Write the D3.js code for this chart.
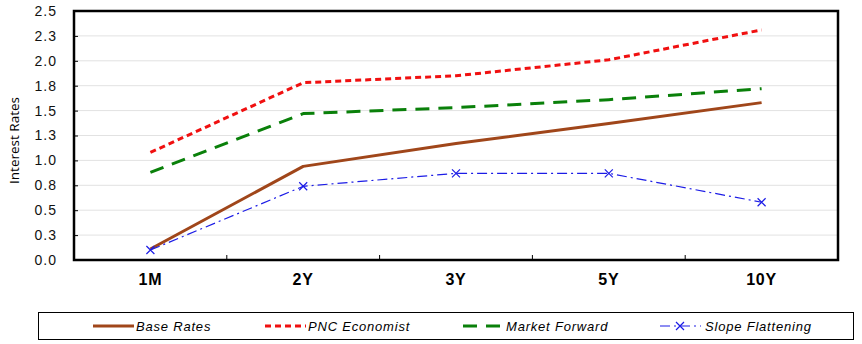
<!DOCTYPE html>
<html><head><meta charset="utf-8">
<script src="https://cdn.jsdelivr.net/npm/d3@7"></script>
<style>body{margin:0;background:#fff;} svg{display:block;}</style>
</head><body>
<script>
const categories = ["1M", "2Y", "3Y", "5Y", "10Y"];
const baseRates = [0.11, 0.94, 1.17, 1.37, 1.58];
const pncEconomist = [1.08, 1.78, 1.85, 2.01, 2.31];
const marketForward = [0.88, 1.47, 1.53, 1.61, 1.72];
const slopeFlattening = [0.10, 0.74, 0.87, 0.87, 0.58];
const yTicks = [0, 0.25, 0.5, 0.75, 1.0, 1.25, 1.5, 1.75, 2.0, 2.25, 2.5];
const yTickLabels = ["0.0", "0.3", "0.5", "0.8", "1.0", "1.3", "1.5", "1.8", "2.0", "2.3", "2.5"];
const seriesNames = ["Base Rates", "PNC Economist", "Market Forward", "Slope Flattening"];

const W = 862, H = 344;
const m = {left: 74, right: 838, top: 11, bottom: 260};
const svg = d3.select("body").append("svg").attr("width", W).attr("height", H);

const x = d3.scaleBand().domain(categories).range([m.left, m.right]);
const y = d3.scaleLinear().domain([0, 2.5]).range([m.bottom, m.top]);

// gridlines
svg.append("g").selectAll("line").data(yTicks.slice(1, -1)).join("line")
  .attr("x1", m.left).attr("x2", m.right)
  .attr("y1", d => y(d)).attr("y2", d => y(d))
  .attr("stroke", "#e2e2e2").attr("stroke-width", 1);

// y axis labels
const yAxis = d3.axisLeft(y).tickValues(yTicks).tickFormat((d, i) => yTickLabels[i]).tickSize(4).tickPadding(13);
const gy = svg.append("g").attr("transform", `translate(${m.left},0)`).call(yAxis);
gy.select(".domain").remove();
gy.selectAll(".tick line").attr("stroke", "#000").attr("x2", 4).attr("x1", 0);
gy.selectAll("text").attr("font-family", "Arial, 'Liberation Sans', sans-serif").attr("font-size", 14)
  .attr("letter-spacing", 1).attr("fill", "#111");

// x axis labels + boundary ticks
const gx = svg.append("g");
gx.selectAll("text").data(categories).join("text")
  .attr("x", d => x(d) + x.bandwidth() / 2).attr("y", 285)
  .attr("text-anchor", "middle")
  .attr("font-family", "Arial, 'Liberation Sans', sans-serif").attr("font-weight", "bold").attr("font-size", 16)
  .attr("letter-spacing", 0.8)
  .text(d => d);
gx.selectAll("line").data(categories.slice(1)).join("line")
  .attr("x1", d => x(d)).attr("x2", d => x(d))
  .attr("y1", m.bottom).attr("y2", m.bottom - 5)
  .attr("stroke", "#000").attr("stroke-width", 1);

// y label
svg.append("text")
  .attr("transform", `translate(19,${(m.top + m.bottom) / 2 + 5}) rotate(-90)`)
  .attr("text-anchor", "middle")
  .attr("font-family", "'Open Sans', 'Noto Sans', sans-serif").attr("font-size", 13.5)
  .text("Interest Rates");

const styles = [
  {data: baseRates, color: "#A0461A", width: 3, dash: null, marker: false},
  {data: pncEconomist, color: "#F01010", width: 3, dash: "6,4", marker: false},
  {data: marketForward, color: "#0A800A", width: 3, dash: "14,9", marker: false},
  {data: slopeFlattening, color: "#1C1CE6", width: 1.2, dash: "10,4,2,4", marker: true}
];

const line = d3.line().x((d, i) => x(categories[i]) + x.bandwidth() / 2).y(d => y(d));
const lines = svg.append("g");
styles.forEach(s => {
  lines.append("path").datum(s.data).attr("d", line)
    .attr("fill", "none").attr("stroke", s.color).attr("stroke-width", s.width)
    .attr("stroke-dasharray", s.dash).attr("stroke-linejoin", "round");
  if (s.marker) {
    lines.append("g").selectAll("path").data(s.data).join("path")
      .attr("transform", (d, i) => `translate(${x(categories[i]) + x.bandwidth() / 2},${y(d)})`)
      .attr("d", "M-4,-4L4,4M-4,4L4,-4")
      .attr("stroke", s.color).attr("stroke-width", 1.2).attr("fill", "none");
  }
});

// plot border
svg.append("rect").attr("x", m.left).attr("y", m.top)
  .attr("width", m.right - m.left).attr("height", m.bottom - m.top)
  .attr("fill", "none").attr("stroke", "#000").attr("stroke-width", 2.5);

// legend
svg.append("rect").attr("x", 38.5).attr("y", 312.5).attr("width", 815).attr("height", 27)
  .attr("fill", "#fff").attr("stroke", "#000").attr("stroke-width", 1);
const legX = [93, 265, 463, 660];
const leg = svg.append("g");
styles.forEach((s, i) => {
  const lx = legX[i], ly = 326;
  leg.append("line").attr("x1", lx).attr("x2", lx + 41).attr("y1", ly).attr("y2", ly)
    .attr("stroke", s.color).attr("stroke-width", s.width)
    .attr("stroke-dasharray", s.dash);
  if (s.marker) {
    leg.append("path").attr("transform", `translate(${lx + 20},${ly})`)
      .attr("d", "M-4,-4L4,4M-4,4L4,-4").attr("stroke", s.color).attr("stroke-width", 1.2);
  }
  leg.append("text").attr("x", lx + 43 + (s.marker ? 2 : 0)).attr("y", ly + 4.5)
    .attr("font-family", "Arial, 'Liberation Sans', sans-serif").attr("font-style", "italic").attr("font-size", 13)
    .attr("letter-spacing", 0.8)
    .text(seriesNames[i]);
});
</script>
</body></html>
